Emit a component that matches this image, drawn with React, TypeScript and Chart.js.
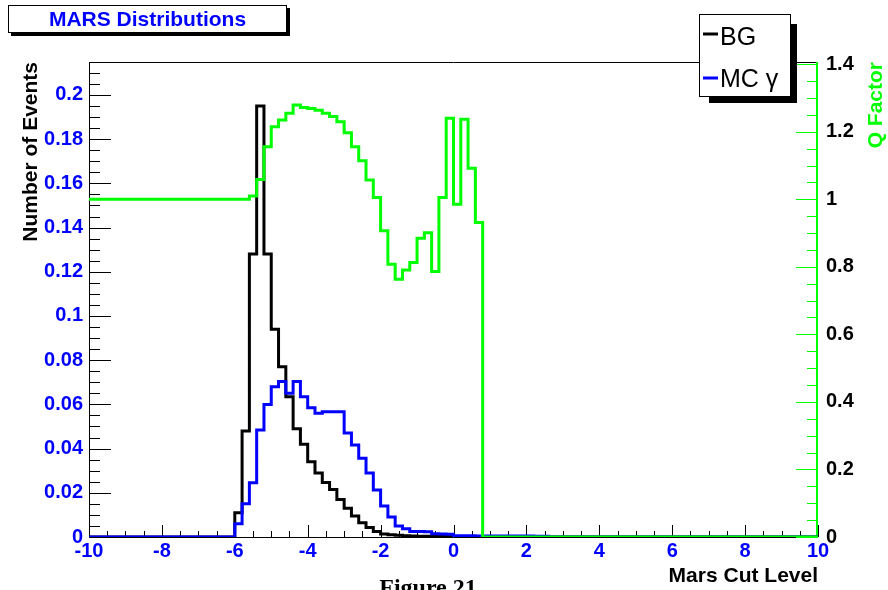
import React, { useEffect, useRef } from 'react';
import { Chart, registerables } from 'chart.js';

Chart.register(...registerables);

// Histogram binning: 100 bins of width 0.2 between -10 and 10
const BIN_MIN = -10;
const BIN_WIDTH = 0.2;

// BG (black), number of events per bin
const BG: number[] = [
  0, 0, 0, 0, 0, 0, 0, 0, 0, 0,
  0, 0, 0, 0, 0, 0, 0, 0, 0, 0,
  0.011, 0.048, 0.128, 0.195, 0.128, 0.094, 0.077, 0.0635, 0.049, 0.042,
  0.034, 0.029, 0.0247, 0.0215, 0.017, 0.013, 0.0095, 0.0065, 0.0043, 0.0025,
  0.0014, 0.001, 0.0008, 0.0006, 0.0005, 0.0003, 0.0003, 0.0003, 0.0002, 0.0002,
  0, 0, 0, 0, 0, 0, 0, 0, 0, 0,
  0, 0, 0, 0, 0, 0, 0, 0, 0, 0,
  0, 0, 0, 0, 0, 0, 0, 0, 0, 0,
  0, 0, 0, 0, 0, 0, 0, 0, 0, 0,
  0, 0, 0, 0, 0, 0, 0, 0, 0, 0,
];

// MC gamma (blue), number of events per bin
const MC: number[] = [
  0, 0, 0, 0, 0, 0, 0, 0, 0, 0,
  0, 0, 0, 0, 0, 0, 0, 0, 0, 0,
  0.006, 0.015, 0.0245, 0.0484, 0.06, 0.068, 0.0703, 0.065, 0.0703, 0.0635,
  0.0585, 0.056, 0.0567, 0.0567, 0.0567, 0.047, 0.0416, 0.0356, 0.029, 0.0213,
  0.014, 0.009, 0.005, 0.0037, 0.0025, 0.0025, 0.0024, 0.0015, 0.0014, 0.0013,
  0.0006, 0.0006, 0.0006, 0.0005, 0.0005, 0.0005, 0.0005, 0.0004, 0.0004, 0.0004,
  0.0004, 0.0003, 0.0003, 0, 0, 0, 0, 0, 0, 0,
  0, 0, 0, 0, 0, 0, 0, 0, 0, 0,
  0, 0, 0, 0, 0, 0, 0, 0, 0, 0,
  0, 0, 0, 0, 0, 0, 0, 0, 0, 0,
];

// Q factor (green), right axis
const Q: number[] = [
  1, 1, 1, 1, 1, 1, 1, 1, 1, 1,
  1, 1, 1, 1, 1, 1, 1, 1, 1, 1,
  1, 1, 1.01, 1.059, 1.156, 1.215, 1.235, 1.255, 1.279, 1.272,
  1.269, 1.264, 1.255, 1.245, 1.23, 1.197, 1.156, 1.114, 1.057, 1.005,
  0.907, 0.808, 0.763, 0.791, 0.813, 0.885, 0.901, 0.786, 1.005, 1.24,
  0.985, 1.237, 1.092, 0.931, 0, 0, 0, 0, 0, 0,
  0, 0, 0, 0, 0, 0, 0, 0, 0, 0,
  0, 0, 0, 0, 0, 0, 0, 0, 0, 0,
  0, 0, 0, 0, 0, 0, 0, 0, 0, 0,
  0, 0, 0, 0, 0, 0, 0, 0, 0, 0,
];

const X_TICKS = [-10, -8, -6, -4, -2, 0, 2, 4, 6, 8, 10];
const Y_TICKS = [0, 0.02, 0.04, 0.06, 0.08, 0.1, 0.12, 0.14, 0.16, 0.18, 0.2];
const Q_TICKS = [0, 0.2, 0.4, 0.6, 0.8, 1, 1.2, 1.4];

const X_MIN = -10;
const X_MAX = 10;
const Y_MAX = 0.2149;
const Q_MAX = 1.4066;

const TITLE = 'MARS Distributions';
const X_TITLE = 'Mars Cut Level';
const Y_TITLE = 'Number of Events';
const Q_TITLE = 'Q Factor';
const FIGURE_CAPTION = 'Figure 21';

const BLUE = '#0000ff';
const GREEN = '#00ff00';
const SANS = '"Liberation Sans", Arial, Helvetica, sans-serif';

function toSteps(vals: number[]) {
  const pts = vals.map((v, i) => ({ x: BIN_MIN + i * BIN_WIDTH, y: v }));
  pts.push({ x: BIN_MIN + vals.length * BIN_WIDTH, y: vals[vals.length - 1] });
  return pts;
}

const fmt = (v: number) => String(Number(Number(v).toFixed(3)));

const decorPlugin = {
  id: 'rootDecor',
  beforeDatasetsDraw(chart: any) {
    const { ctx, chartArea: a, scales } = chart;
    const xs = scales.x, ys = scales.y, qs = scales.yq;
    ctx.save();
    ctx.lineWidth = 1;
    // frame (black) left, bottom, top
    ctx.strokeStyle = '#000';
    ctx.beginPath();
    ctx.moveTo(a.left + 0.5, a.top + 0.5);
    ctx.lineTo(a.left + 0.5, a.bottom + 0.5);
    ctx.lineTo(a.right, a.bottom + 0.5);
    ctx.moveTo(a.left, a.top + 0.5);
    ctx.lineTo(a.right, a.top + 0.5);
    // x ticks
    for (let k = 0; k <= 40; k++) {
      const v = X_MIN + k * 0.5;
      const px = Math.round(xs.getPixelForValue(v)) + 0.5;
      const len = k % 4 === 0 ? 12 : 6;
      ctx.moveTo(px, a.bottom);
      ctx.lineTo(px, a.bottom - len);
    }
    // left y ticks
    for (let k = 0; k * 0.005 <= Y_MAX + 1e-9; k++) {
      const v = k * 0.005;
      const py = Math.round(ys.getPixelForValue(v)) + 0.5;
      const len = k % 4 === 0 ? 22 : 11;
      ctx.moveTo(a.left, py);
      ctx.lineTo(a.left + len, py);
    }
    ctx.stroke();
    // right axis (green)
    ctx.strokeStyle = GREEN;
    ctx.beginPath();
    for (let k = 0; k * 0.05 <= Q_MAX + 1e-9; k++) {
      const v = k * 0.05;
      const py = Math.round(qs.getPixelForValue(v)) + 0.5;
      const len = k % 4 === 0 ? 22 : 11;
      ctx.moveTo(a.right, py);
      ctx.lineTo(a.right - len, py);
    }
    ctx.stroke();
    ctx.lineWidth = 2;
    ctx.beginPath();
    ctx.moveTo(a.right - 1, a.top);
    ctx.lineTo(a.right - 1, a.bottom + 1);
    ctx.stroke();
    ctx.restore();
  },
  afterDraw(chart: any) {
    const { ctx, chartArea: a } = chart;
    ctx.save();
    // Title box
    ctx.fillStyle = '#000';
    ctx.fillRect(11, 8, 279, 28);
    ctx.fillStyle = '#fff';
    ctx.fillRect(8, 5, 279, 28);
    ctx.strokeStyle = '#000';
    ctx.lineWidth = 1;
    ctx.strokeRect(8.5, 5.5, 278, 27);
    ctx.fillStyle = BLUE;
    ctx.font = `bold 21px ${SANS}`;
    ctx.textAlign = 'center';
    ctx.textBaseline = 'middle';
    ctx.fillText(TITLE, 147.5, 20);

    // Legend box with shadow
    ctx.fillStyle = '#000';
    ctx.fillRect(709, 24, 88, 79);
    ctx.fillStyle = '#fff';
    ctx.fillRect(699, 14, 92, 83);
    ctx.strokeRect(699.5, 14.5, 91, 82);
    const ds = chart.data.datasets;
    const entries = [ds[2], ds[1]];
    const rows = [{ ly: 34, ty: 45 }, { ly: 78, ty: 87 }];
    entries.forEach((d: any, i: number) => {
      ctx.strokeStyle = d.borderColor;
      ctx.lineWidth = 3;
      ctx.beginPath();
      ctx.moveTo(703, rows[i].ly);
      ctx.lineTo(718, rows[i].ly);
      ctx.stroke();
      ctx.fillStyle = '#000';
      ctx.font = `25px ${SANS}`;
      ctx.textAlign = 'left';
      ctx.textBaseline = 'alphabetic';
      ctx.fillText(d.label, 720, rows[i].ty);
    });

    // Axis titles
    ctx.fillStyle = '#000';
    ctx.font = `bold 21px ${SANS}`;
    ctx.textAlign = 'right';
    ctx.textBaseline = 'alphabetic';
    ctx.fillText(X_TITLE, a.right, 582);

    ctx.save();
    ctx.translate(37, a.top);
    ctx.rotate(-Math.PI / 2);
    ctx.textAlign = 'right';
    ctx.fillText(Y_TITLE, 0, 0);
    ctx.restore();

    ctx.save();
    ctx.translate(882, a.top);
    ctx.rotate(-Math.PI / 2);
    ctx.textAlign = 'right';
    ctx.fillStyle = GREEN;
    ctx.fillText(Q_TITLE, 0, 0);
    ctx.restore();

    // Cropped figure caption at the bottom
    ctx.fillStyle = '#000';
    ctx.font = 'bold 24px "Liberation Serif", "Times New Roman", serif';
    ctx.textAlign = 'center';
    ctx.fillText(FIGURE_CAPTION, 428, 595);
    ctx.restore();
  },
};

export default function App() {
  const ref = useRef<HTMLCanvasElement | null>(null);

  useEffect(() => {
    document.body.style.margin = '0';
    const canvas = ref.current;
    if (!canvas) return;
    const tickFont = { family: SANS, size: 20, weight: 'bold' as const };
    const chart = new Chart(canvas, {
      type: 'line',
      data: {
        datasets: [
          {
            label: 'Q Factor',
            data: toSteps(Q),
            yAxisID: 'yq',
            borderColor: GREEN,
            borderWidth: 3,
            stepped: 'before',
            pointRadius: 0,
            fill: false,
            order: 0,
          },
          {
            label: 'MC \u03b3',
            data: toSteps(MC),
            yAxisID: 'y',
            borderColor: BLUE,
            borderWidth: 3,
            stepped: 'before',
            pointRadius: 0,
            fill: false,
            order: 1,
          },
          {
            label: 'BG',
            data: toSteps(BG),
            yAxisID: 'y',
            borderColor: '#000000',
            borderWidth: 3,
            stepped: 'before',
            pointRadius: 0,
            fill: false,
            order: 2,
          },
        ],
      },
      options: {
        animation: false,
        responsive: false,
        maintainAspectRatio: false,
        layout: { padding: { top: 62, left: 0, right: 0, bottom: 0 } },
        plugins: {
          legend: { display: false },
          tooltip: { enabled: false },
          title: { display: false },
        },
        elements: { point: { radius: 0 }, line: { tension: 0 } },
        scales: {
          x: {
            type: 'linear',
            position: 'bottom',
            min: X_MIN,
            max: X_MAX,
            grid: { display: false, drawTicks: false },
            border: { display: false },
            ticks: {
              color: BLUE,
              font: tickFont,
              padding: 2,
              autoSkip: false,
              maxRotation: 0,
              callback: (v: any) => fmt(v),
            },
            afterBuildTicks: (s: any) => {
              s.ticks = X_TICKS.map((v) => ({ value: v }));
            },
            afterFit: (s: any) => {
              s.height = 53;
            },
          },
          y: {
            type: 'linear',
            position: 'left',
            min: 0,
            max: Y_MAX,
            grid: { display: false, drawTicks: false },
            border: { display: false },
            ticks: {
              color: BLUE,
              font: tickFont,
              padding: 6,
              autoSkip: false,
              callback: (v: any) => fmt(v),
            },
            afterBuildTicks: (s: any) => {
              s.ticks = Y_TICKS.map((v) => ({ value: v }));
            },
            afterFit: (s: any) => {
              s.width = 89;
            },
          },
          yq: {
            type: 'linear',
            position: 'right',
            min: 0,
            max: Q_MAX,
            grid: { display: false, drawTicks: false },
            border: { display: false },
            ticks: {
              color: '#000',
              font: tickFont,
              padding: 8,
              autoSkip: false,
              callback: (v: any) => fmt(v),
            },
            afterBuildTicks: (s: any) => {
              s.ticks = Q_TICKS.map((v) => ({ value: v }));
            },
            afterFit: (s: any) => {
              s.width = 70;
            },
          },
        },
      },
      plugins: [decorPlugin],
    });
    return () => chart.destroy();
  }, []);

  return (
    <canvas
      ref={ref}
      width={888}
      height={590}
      style={{ display: 'block', position: 'absolute', left: 0, top: 0 }}
    />
  );
}
